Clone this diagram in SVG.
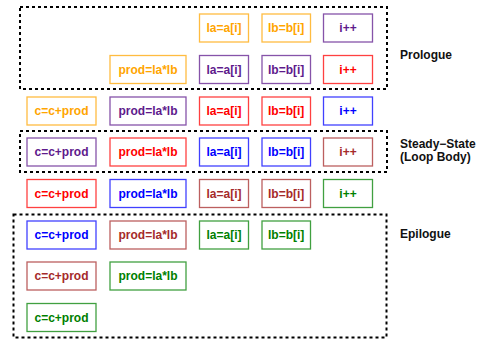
<svg xmlns="http://www.w3.org/2000/svg" width="485" height="339" viewBox="0 0 485 339">
  <style>
    text { font-family: "Liberation Sans", Arial, sans-serif; font-weight: bold; font-size: 12px; }
    .op rect { fill: #ffffff; stroke-width: 1.3; stroke-opacity: 0.75; }
    .op text { text-anchor: middle; }
    .stage { fill: none; stroke: #000000; stroke-width: 2; stroke-dasharray: 3 3; }
    .lbl { fill: #111111; }
    .orange rect { stroke: #ffa500; } .orange text { fill: #ffa500; }
    .purple rect { stroke: #5e1a8c; } .purple text { fill: #5e1a8c; }
    .red rect { stroke: #ff0000; } .red text { fill: #ff0000; }
    .blue rect { stroke: #0000ff; } .blue text { fill: #0000ff; }
    .brown rect { stroke: #a52a2a; } .brown text { fill: #a52a2a; }
    .green rect { stroke: #008000; } .green text { fill: #008000; }
  </style>

  <!-- pipeline stage frames -->
  <g id="stages">
    <rect class="stage" x="20" y="7" width="367" height="82"/>
    <rect class="stage" x="20" y="131" width="367" height="41"/>
    <rect class="stage" x="13.5" y="214.5" width="373" height="123"/>
    <text class="lbl" x="400" y="59">Prologue</text>
    <text class="lbl" x="400" y="147.5">Steady−State</text>
    <text class="lbl" x="400" y="160.5">(Loop Body)</text>
    <text class="lbl" x="400" y="238">Epilogue</text>
  </g>

  <!-- row 1 -->
  <g id="r1-la" class="op orange"><rect x="199.5" y="14" width="49" height="28"/><text x="224" y="32.3">la=a[i]</text></g>
  <g id="r1-lb" class="op orange"><rect x="262" y="14" width="48.5" height="28"/><text x="286.2" y="32.3">lb=b[i]</text></g>
  <g id="r1-inc" class="op purple"><rect x="323.5" y="14" width="49" height="28"/><text x="348" y="32.3">i++</text></g>

  <!-- row 2 -->
  <g id="r2-prod" class="op orange"><rect x="110" y="55.5" width="76" height="28"/><text x="148" y="73.8">prod=la*lb</text></g>
  <g id="r2-la" class="op purple"><rect x="199.5" y="55.5" width="49" height="28"/><text x="224" y="73.8">la=a[i]</text></g>
  <g id="r2-lb" class="op purple"><rect x="262" y="55.5" width="48.5" height="28"/><text x="286.2" y="73.8">lb=b[i]</text></g>
  <g id="r2-inc" class="op red"><rect x="323.5" y="55.5" width="49" height="28"/><text x="348" y="73.8">i++</text></g>

  <!-- row 3 -->
  <g id="r3-acc" class="op orange"><rect x="27" y="97" width="69" height="28"/><text x="61.5" y="115.3">c=c+prod</text></g>
  <g id="r3-prod" class="op purple"><rect x="110" y="97" width="76" height="28"/><text x="148" y="115.3">prod=la*lb</text></g>
  <g id="r3-la" class="op red"><rect x="199.5" y="97" width="49" height="28"/><text x="224" y="115.3">la=a[i]</text></g>
  <g id="r3-lb" class="op red"><rect x="262" y="97" width="48.5" height="28"/><text x="286.2" y="115.3">lb=b[i]</text></g>
  <g id="r3-inc" class="op blue"><rect x="323.5" y="97" width="49" height="28"/><text x="348" y="115.3">i++</text></g>

  <!-- row 4 -->
  <g id="r4-acc" class="op purple"><rect x="27" y="138" width="69" height="28"/><text x="61.5" y="156.3">c=c+prod</text></g>
  <g id="r4-prod" class="op red"><rect x="110" y="138" width="76" height="28"/><text x="148" y="156.3">prod=la*lb</text></g>
  <g id="r4-la" class="op blue"><rect x="199.5" y="138" width="49" height="28"/><text x="224" y="156.3">la=a[i]</text></g>
  <g id="r4-lb" class="op blue"><rect x="262" y="138" width="48.5" height="28"/><text x="286.2" y="156.3">lb=b[i]</text></g>
  <g id="r4-inc" class="op brown"><rect x="323.5" y="138" width="49" height="28"/><text x="348" y="156.3">i++</text></g>

  <!-- row 5 -->
  <g id="r5-acc" class="op red"><rect x="27" y="179.5" width="69" height="28"/><text x="61.5" y="197.8">c=c+prod</text></g>
  <g id="r5-prod" class="op blue"><rect x="110" y="179.5" width="76" height="28"/><text x="148" y="197.8">prod=la*lb</text></g>
  <g id="r5-la" class="op brown"><rect x="199.5" y="179.5" width="49" height="28"/><text x="224" y="197.8">la=a[i]</text></g>
  <g id="r5-lb" class="op brown"><rect x="262" y="179.5" width="48.5" height="28"/><text x="286.2" y="197.8">lb=b[i]</text></g>
  <g id="r5-inc" class="op green"><rect x="323.5" y="179.5" width="49" height="28"/><text x="348" y="197.8">i++</text></g>

  <!-- row 6 -->
  <g id="r6-acc" class="op blue"><rect x="27" y="221" width="69" height="28"/><text x="61.5" y="239.3">c=c+prod</text></g>
  <g id="r6-prod" class="op brown"><rect x="110" y="221" width="76" height="28"/><text x="148" y="239.3">prod=la*lb</text></g>
  <g id="r6-la" class="op green"><rect x="199.5" y="221" width="49" height="28"/><text x="224" y="239.3">la=a[i]</text></g>
  <g id="r6-lb" class="op green"><rect x="262" y="221" width="48.5" height="28"/><text x="286.2" y="239.3">lb=b[i]</text></g>

  <!-- row 7 -->
  <g id="r7-acc" class="op brown"><rect x="27" y="262" width="69" height="28"/><text x="61.5" y="280.3">c=c+prod</text></g>
  <g id="r7-prod" class="op green"><rect x="110" y="262" width="76" height="28"/><text x="148" y="280.3">prod=la*lb</text></g>

  <!-- row 8 -->
  <g id="r8-acc" class="op green"><rect x="27" y="303.5" width="69" height="28"/><text x="61.5" y="321.8">c=c+prod</text></g>

  <g id="connectors"/>
</svg>
